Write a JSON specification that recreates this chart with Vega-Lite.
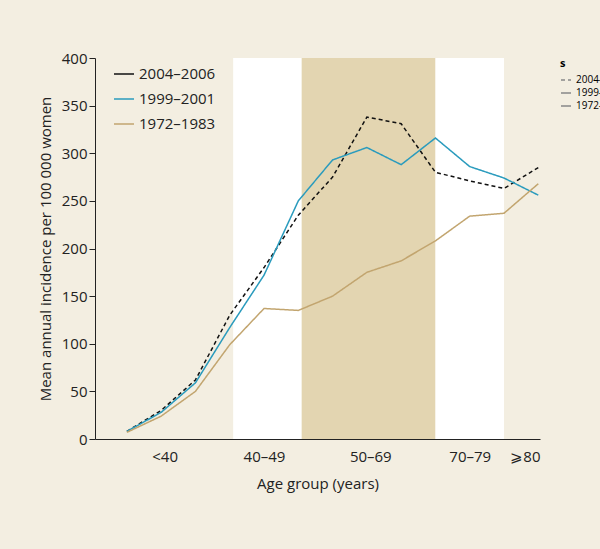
{
  "$schema": "https://vega.github.io/schema/vega-lite/v6.json",
  "width": 445,
  "height": 381,
  "autosize": "none",
  "padding": {"left": 95, "top": 58, "right": 60, "bottom": 110},
  "background": "#f3eee1",
  "config": {
    "font": "Open Sans",
    "view": {"stroke": null},
    "axis": {"labelFontSize": 15, "titleFontSize": 15, "titleFontWeight": "normal", "labelColor": "#222", "titleColor": "#222", "domainColor": "#222", "tickColor": "#222", "grid": false}
  },
  "resolve": {"scale": {"color": "independent"}},
  "datasets": {
    "bands": [
      {"x0": 3.1, "x1": 5.1, "c": "white"},
      {"x0": 5.1, "x1": 9.0, "c": "tan"},
      {"x0": 9.0, "x1": 11.0, "c": "white"}
    ],
    "lines": [
      {"i": 0, "s": "2004–2006", "v": 8}, {"i": 1, "s": "2004–2006", "v": 30}, {"i": 2, "s": "2004–2006", "v": 62},
      {"i": 3, "s": "2004–2006", "v": 130}, {"i": 4, "s": "2004–2006", "v": 180}, {"i": 5, "s": "2004–2006", "v": 235},
      {"i": 6, "s": "2004–2006", "v": 275}, {"i": 7, "s": "2004–2006", "v": 338}, {"i": 8, "s": "2004–2006", "v": 331},
      {"i": 9, "s": "2004–2006", "v": 280}, {"i": 10, "s": "2004–2006", "v": 271}, {"i": 11, "s": "2004–2006", "v": 263},
      {"i": 12, "s": "2004–2006", "v": 285},
      {"i": 0, "s": "1999–2001", "v": 8}, {"i": 1, "s": "1999–2001", "v": 28}, {"i": 2, "s": "1999–2001", "v": 59},
      {"i": 3, "s": "1999–2001", "v": 117}, {"i": 4, "s": "1999–2001", "v": 172}, {"i": 5, "s": "1999–2001", "v": 250},
      {"i": 6, "s": "1999–2001", "v": 293}, {"i": 7, "s": "1999–2001", "v": 306}, {"i": 8, "s": "1999–2001", "v": 288},
      {"i": 9, "s": "1999–2001", "v": 316}, {"i": 10, "s": "1999–2001", "v": 286}, {"i": 11, "s": "1999–2001", "v": 274},
      {"i": 12, "s": "1999–2001", "v": 256},
      {"i": 0, "s": "1972–1983", "v": 7}, {"i": 1, "s": "1972–1983", "v": 24}, {"i": 2, "s": "1972–1983", "v": 50},
      {"i": 3, "s": "1972–1983", "v": 99}, {"i": 4, "s": "1972–1983", "v": 137}, {"i": 5, "s": "1972–1983", "v": 135},
      {"i": 6, "s": "1972–1983", "v": 150}, {"i": 7, "s": "1972–1983", "v": 175}, {"i": 8, "s": "1972–1983", "v": 187},
      {"i": 9, "s": "1972–1983", "v": 208}, {"i": 10, "s": "1972–1983", "v": 234}, {"i": 11, "s": "1972–1983", "v": 237},
      {"i": 12, "s": "1972–1983", "v": 268}
    ]
  },
  "layer": [
    {
      "data": {"name": "bands"},
      "mark": {"type": "rect"},
      "encoding": {
        "x": {"field": "x0", "type": "quantitative", "scale": {"domain": [-0.93, 12.05], "nice": false, "zero": false}},
        "x2": {"field": "x1"},
        "color": {"field": "c", "type": "nominal", "scale": {"domain": ["white", "tan"], "range": ["#ffffff", "#e3d5b1"]}, "legend": null}
      }
    },
    {
      "data": {"name": "lines"},
      "mark": {"type": "line", "strokeWidth": 1.5},
      "encoding": {
        "x": {"field": "i", "type": "quantitative", "title": "Age group (years)",
          "axis": {"values": [1.1, 4, 7.1, 10, 12.05], "ticks": false, "labelPadding": 10, "titlePadding": 12,
            "labelExpr": "datum.value < 2 ? '<40' : datum.value < 5 ? '40–49' : datum.value < 8 ? '50–69' : datum.value < 11 ? '70–79' : '⩾80'"}},
        "y": {"field": "v", "type": "quantitative", "title": "Mean annual incidence per 100 000 women",
          "scale": {"domain": [0, 400], "nice": false}, "axis": {"values": [0, 50, 100, 150, 200, 250, 300, 350, 400], "tickSize": 6, "titlePadding": 8}},
        "color": {"field": "s", "type": "nominal", "sort": ["2004–2006", "1999–2001", "1972–1983"],
          "scale": {"domain": ["2004–2006", "1999–2001", "1972–1983"], "range": ["#111111", "#2a9bbd", "#c2a56f"]},
          "legend": {"title": null, "orient": "none", "legendX": 18, "legendY": 5, "labelFontSize": 15, "symbolType": "stroke", "symbolSize": 400, "symbolStrokeWidth": 1.5, "rowPadding": 6, "labelColor": "#222"}},
        "strokeDash": {"field": "s", "type": "nominal",
          "scale": {"domain": ["2004–2006", "1999–2001", "1972–1983"], "range": [[4, 3], [1, 0], [1, 0]]}}
      }
    }
  ]
}
